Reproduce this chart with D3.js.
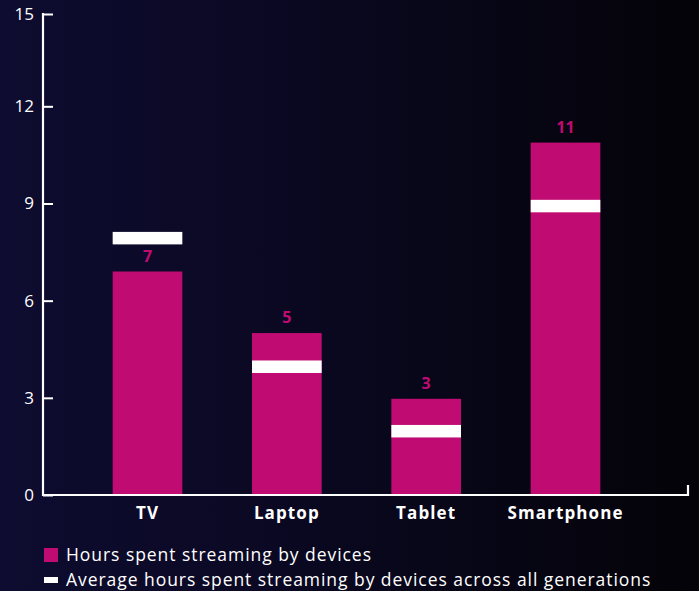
<!DOCTYPE html>
<html>
<head>
<meta charset="utf-8">
<script src="https://cdn.jsdelivr.net/npm/d3@7"></script>
<style>
  html, body { margin: 0; padding: 0; background: #07061a; }
  svg { display: block; }
  text { font-family: "Open Sans", "DejaVu Sans", sans-serif; }
</style>
</head>
<body>
<svg id="chart" width="699" height="591"></svg>
<script>
// ---- data ----
const categories = ["TV", "Laptop", "Tablet", "Smartphone"];
const hoursByDevice = [6.9, 5.0, 2.97, 10.88];
const averageHours = [7.93, 3.96, 1.97, 8.92];
const valueLabels = ["7", "5", "3", "11"];
const yTickValues = [0, 3, 6, 9, 12, 14.85];
const yTickLabels = ["0", "3", "6", "9", "12", "15"];
const legendLabels = ["Hours spent streaming by devices", "Average hours spent streaming by devices across all generations"];

// ---- styles ----
const pink = "#c00b73";
const white = "#ffffff";

const W = 699, H = 591;
const margin = { left: 43, top: 14, bottom: 96 };
const plotBottom = H - margin.bottom; // 495

const svg = d3.select("#chart");

// background gradient
const defs = svg.append("defs");
const grad = defs.append("linearGradient").attr("id", "bg").attr("x1", "0").attr("x2", "1").attr("y1", "0").attr("y2", "0");
grad.append("stop").attr("offset", "0%").attr("stop-color", "#0e0c30");
grad.append("stop").attr("offset", "45%").attr("stop-color", "#0a0820");
grad.append("stop").attr("offset", "100%").attr("stop-color", "#040308");
svg.append("rect").attr("width", W).attr("height", H).attr("fill", "url(#bg)");

const x = d3.scaleBand().domain(categories).range([margin.left, 670]).paddingInner(0.5).paddingOuter(0.5);
const y = d3.scaleLinear().domain([0, 14.85]).range([plotBottom, margin.top]);

// bars
svg.append("g").selectAll("rect").data(categories).join("rect")
  .attr("x", d => x(d))
  .attr("y", (d, i) => y(hoursByDevice[i]))
  .attr("width", x.bandwidth())
  .attr("height", (d, i) => y(0) - y(hoursByDevice[i]))
  .attr("fill", pink);

// average markers
const markerH = 12.5;
svg.append("g").selectAll("rect").data(categories).join("rect")
  .attr("x", d => x(d))
  .attr("y", (d, i) => y(averageHours[i]) - markerH / 2)
  .attr("width", x.bandwidth())
  .attr("height", markerH)
  .attr("fill", white);

// value labels
svg.append("g").selectAll("text").data(categories).join("text")
  .attr("x", d => x(d) + x.bandwidth() / 2)
  .attr("y", (d, i) => y(hoursByDevice[i]) - 10)
  .attr("text-anchor", "middle")
  .attr("fill", pink)
  .attr("font-weight", 700)
  .attr("font-size", 16)
  .text((d, i) => valueLabels[i]);

// y axis
const yAxis = d3.axisRight(y).tickValues(yTickValues).tickSize(10)
  .tickFormat((d, i) => yTickLabels[i]);
const gy = svg.append("g").attr("transform", `translate(${margin.left},0)`).call(yAxis);
gy.select(".domain").remove();
gy.selectAll(".tick line").attr("stroke", white).attr("stroke-width", 2);
gy.selectAll(".tick text").attr("x", -9).attr("text-anchor", "end")
  .attr("fill", white).attr("font-size", 17).attr("font-family", "'Open Sans', sans-serif");
gy.append("line").attr("x1", 0).attr("x2", 0).attr("y1", y(14.85) - 1).attr("y2", plotBottom + 1)
  .attr("stroke", white).attr("stroke-width", 2.2);

// x axis
const gx = svg.append("g").attr("transform", `translate(0,${plotBottom})`)
  .call(d3.axisBottom(x).tickSize(0).tickPadding(12));
gx.select(".domain").remove();
gx.append("path").attr("d", `M${margin.left},0H688V-10`).attr("fill", "none")
  .attr("stroke", white).attr("stroke-width", 2.2);
gx.selectAll(".tick text").attr("fill", white).attr("font-size", 17).attr("font-weight", 700)
  .attr("letter-spacing", "1.1px")
  .attr("font-family", "'Open Sans', sans-serif");

// legend
const legend = svg.append("g").attr("transform", "translate(44,0)");
legend.append("rect").attr("x", 0).attr("y", 548).attr("width", 14).attr("height", 14).attr("fill", pink);
legend.append("rect").attr("x", 0).attr("y", 577).attr("width", 14).attr("height", 6).attr("fill", white);
legend.selectAll("text").data(legendLabels).join("text")
  .attr("x", 22)
  .attr("y", (d, i) => 561 + i * 25)
  .attr("fill", white)
  .attr("font-size", 17.5)
  .attr("letter-spacing", "0.95px")
  .text(d => d);
</script>
</body>
</html>
